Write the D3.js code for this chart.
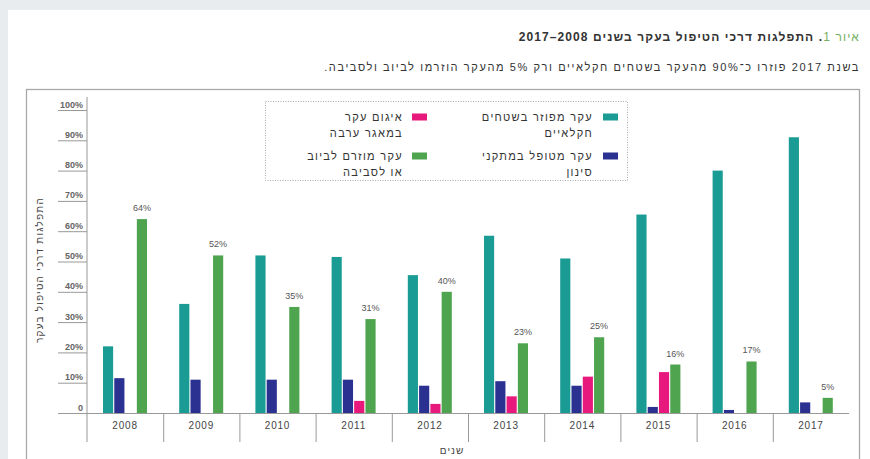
<!DOCTYPE html>
<html>
<head>
<meta charset="utf-8">
<script src="https://cdn.jsdelivr.net/npm/d3@7"></script>
<style>
  body { margin: 0; background: #e8ecef; }
  text { font-family: "Liberation Sans", Arial, sans-serif; }
</style>
</head>
<body>
<script>
// chart data
const years = ['2008', '2009', '2010', '2011', '2012', '2013', '2014', '2015', '2016', '2017'];
const seriesKeys = ['spread', 'filtered', 'pooled', 'sewer'];
const seriesColors = ['#1a9c94', '#2b3190', '#e8197c', '#4fa44f'];
const legendLines = [
  ['עקר מפוזר בשטחים', 'חקלאיים'],
  ['עקר מטופל במתקני', 'סינון'],
  ['איגום עקר', 'במאגר ערבה'],
  ['עקר מוזרם לביוב', 'או לסביבה']
];
const spread = [22, 36, 52, 51.5, 45.5, 58.5, 51, 65.5, 80, 91];
const filtered = [11.5, 11, 11, 11, 9, 10.5, 9, 2, 1, 3.5];
const pooled = [0, 0, 0, 4, 3, 5.5, 12, 13.5, 0, 0];
const sewer = [64, 52, 35, 31, 40, 23, 25, 16, 17, 5];
const yTicks = [0, 10, 20, 30, 40, 50, 60, 70, 80, 90, 100];

const titleLead = 'איור 1';
const titleRest = '. התפלגות דרכי הטיפול בעקר בשנים 2008–2017';
const subtitle = 'בשנת 2017 פוזרו כ־90% מהעקר בשטחים חקלאיים ורק 5% מהעקר הוזרמו לביוב ולסביבה.';
const yTitle = 'התפלגות דרכי הטיפול בעקר';
const xTitle = 'שנים';

const width = 870;
const height = 459;
const plot = {left: 87, right: 849, top: 110, bottom: 413};

const table = years.map((yr, i) => ({
  year: yr, spread: spread[i], filtered: filtered[i], pooled: pooled[i], sewer: sewer[i]
}));

const svg = d3.select('body').append('svg')
  .attr('width', width).attr('height', height);

// card + frame
svg.append('rect').attr('x', 8).attr('y', 10).attr('width', width - 8).attr('height', height - 10).attr('fill', '#fff');
svg.append('rect').attr('x', 26.5).attr('y', 89.5).attr('width', 833).attr('height', 400)
  .attr('fill', 'none').attr('stroke', '#a8a8a8').attr('stroke-width', 1.3);

// titles
const title = svg.append('text')
  .attr('x', 860).attr('y', 41)
  .attr('direction', 'rtl').attr('text-anchor', 'start')
  .attr('font-size', 12).attr('font-weight', 'bold').attr('letter-spacing', 1.1)
  .attr('fill', '#333');
title.append('tspan').attr('fill', '#74b062').attr('font-weight', 'normal').text(titleLead);
title.append('tspan').text(titleRest);

svg.append('text')
  .attr('x', 860).attr('y', 71)
  .attr('direction', 'rtl').attr('text-anchor', 'start')
  .attr('font-size', 11).attr('letter-spacing', 1.6)
  .attr('fill', '#333')
  .text(subtitle);

// scales
const x0 = d3.scaleBand().domain(years).range([plot.left, plot.right]).padding(0);
const x1 = d3.scaleBand().domain(seriesKeys).range([16, 60]).paddingInner(0.1);
const y = d3.scaleLinear().domain([0, 100]).range([plot.bottom, plot.top]);
const color = d3.scaleOrdinal().domain(seriesKeys).range(seriesColors);

// y axis
const yAxis = svg.append('g');
yAxis.append('line')
  .attr('x1', plot.left).attr('x2', plot.left)
  .attr('y1', 97).attr('y2', 442)
  .attr('stroke', '#999').attr('stroke-width', 1);
yAxis.selectAll('.ytick').data(yTicks).join('line')
  .attr('x1', 58).attr('x2', plot.left)
  .attr('y1', d => y(d) + 0.5).attr('y2', d => y(d) + 0.5)
  .attr('stroke', '#999').attr('stroke-width', 1);
yAxis.selectAll('.ylab').data(yTicks).join('text')
  .attr('x', 83).attr('y', d => y(d) - 2.5)
  .attr('text-anchor', 'end')
  .attr('font-size', 9).attr('font-weight', 'bold')
  .attr('fill', '#666')
  .text(d => d === 0 ? '0' : d + '%');

svg.append('text')
  .attr('transform', 'translate(43,270) rotate(-90)')
  .attr('direction', 'rtl').attr('text-anchor', 'middle')
  .attr('font-size', 10).attr('letter-spacing', 1.2)
  .attr('fill', '#444')
  .text(yTitle);

// x axis
const xAxis = svg.append('g');
xAxis.append('line')
  .attr('x1', 58).attr('x2', plot.right)
  .attr('y1', plot.bottom + 0.5).attr('y2', plot.bottom + 0.5)
  .attr('stroke', '#999');
xAxis.selectAll('.div').data(years.slice(1)).join('line')
  .attr('x1', d => x0(d) + 0.5).attr('x2', d => x0(d) + 0.5)
  .attr('y1', plot.bottom).attr('y2', 442)
  .attr('stroke', '#999');
xAxis.selectAll('.xlab').data(years).join('text')
  .attr('x', d => x0(d) + x0.bandwidth() / 2).attr('y', 429)
  .attr('text-anchor', 'middle')
  .attr('font-size', 10).attr('letter-spacing', 0.8)
  .attr('fill', '#444')
  .text(d => d);

svg.append('text')
  .attr('x', 452).attr('y', 454)
  .attr('direction', 'rtl').attr('text-anchor', 'middle')
  .attr('font-size', 10).attr('letter-spacing', 1)
  .attr('fill', '#444')
  .text(xTitle);

// bars
const groups = svg.append('g').selectAll('g').data(table).join('g')
  .attr('transform', d => `translate(${x0(d.year)},0)`);
groups.selectAll('rect')
  .data(d => seriesKeys.map(k => ({key: k, value: d[k]})).filter(e => e.value > 0))
  .join('rect')
  .attr('x', d => x1(d.key))
  .attr('y', d => y(d.value))
  .attr('width', x1.bandwidth())
  .attr('height', d => y(0) - y(d.value))
  .attr('fill', d => color(d.key));

// labels over green bars
groups.append('text')
  .attr('x', x1('sewer') + x1.bandwidth() / 2)
  .attr('y', d => y(d.sewer) - 8)
  .attr('text-anchor', 'middle')
  .attr('font-size', 9)
  .attr('fill', '#555')
  .text(d => d.sewer + '%');

// legend
svg.append('rect')
  .attr('x', 265.5).attr('y', 101.5).attr('width', 362).attr('height', 79)
  .attr('fill', '#fff').attr('stroke', '#aaa').attr('stroke-dasharray', '1,1.5');
const legendPos = [
  {sx: 603, tx: 593, cy: 117},
  {sx: 603, tx: 593, cy: 156},
  {sx: 412, tx: 403, cy: 117},
  {sx: 412, tx: 403, cy: 156}
];
const legend = svg.append('g').selectAll('g').data(seriesKeys).join('g');
legend.append('rect')
  .attr('x', (d, i) => legendPos[i].sx).attr('y', (d, i) => legendPos[i].cy - 3.5)
  .attr('width', 15).attr('height', 7)
  .attr('fill', d => color(d));
legend.each(function (d, i) {
  const g = d3.select(this);
  legendLines[i].forEach((line, j) => {
    g.append('text')
      .attr('x', legendPos[i].tx).attr('y', legendPos[i].cy + 4 + j * 15.5)
      .attr('direction', 'rtl').attr('text-anchor', 'start')
      .attr('font-size', 11).attr('letter-spacing', 1.3)
      .attr('fill', '#333')
      .text(line);
  });
});
</script>
</body>
</html>
